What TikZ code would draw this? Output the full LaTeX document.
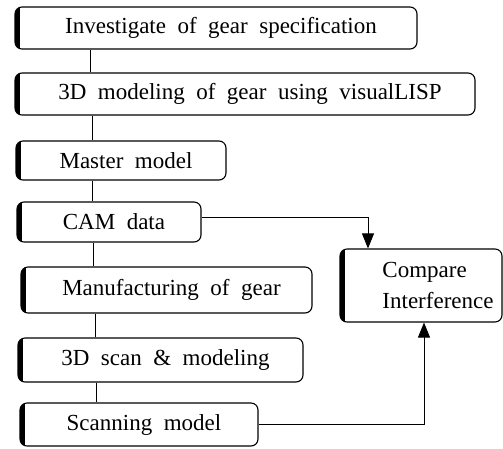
\documentclass[tikz,border=0pt]{standalone}
\usepackage{fontspec}
\setmainfont{Liberation Serif}
\usetikzlibrary{arrows.meta}

\newcommand\gearfont{\fontsize{23}{31}\selectfont}

\tikzset{
  stepbox/.style={draw, line width=1.1pt, rounded corners=7pt, inner sep=0pt,
    font=\gearfont,
    path picture={\draw[line width=9pt]
      (path picture bounding box.north west) -- (path picture bounding box.south west);}},
  gearstep/.style={stepbox, execute at begin node={\spaceskip=0.5em\relax\hspace*{10pt}}},
  spine/.style={line width=0.8pt},
  flow/.style={line width=0.9pt, -{Triangle[length=15pt,width=12pt]}}
}

\begin{document}
\begin{tikzpicture}[x=1pt, y=1pt]

  \useasboundingbox (0,0) rectangle (503,-448);

  % process chain, top to bottom
  \node[gearstep, minimum width=402pt, minimum height=42pt] (inv)    at (216,-28)    {Investigate of gear specification};
  \node[gearstep, minimum width=460pt, minimum height=42pt] (model)  at (245,-94)    {3D modeling of gear using visualLISP};
  \node[gearstep, minimum width=210pt, minimum height=39pt] (master) at (121,-160.5) {Master model};
  \node[gearstep, minimum width=184pt, minimum height=40pt] (cam)    at (109,-222)   {CAM data};
  \node[gearstep, minimum width=291pt, minimum height=46pt] (manu)   at (166.5,-290) {Manufacturing of gear};
  \node[gearstep, minimum width=285pt, minimum height=44pt] (scan)   at (160.5,-360) {3D scan \& modeling};
  \node[gearstep, minimum width=238pt, minimum height=43pt] (smodel) at (139,-424.5) {Scanning model};

  % check box on the right
  \node[stepbox, align=left, minimum width=162pt, minimum height=73pt] (cmp) at (421,-285.5)
    {\hspace*{34pt}Compare\\\hspace*{34pt}Interference};

  \foreach \a/\b/\x in {inv/model/90, model/master/92, master/cam/92,
                        cam/manu/93, manu/scan/95, scan/smodel/96}
    \draw[spine] (\x,0 |- \a.south) -- (\x,0 |- \b.north);

  \draw[flow] ([yshift=5pt]cam.east) -| ([xshift=-53pt]cmp.north);
  \draw[flow] (smodel.east) -| ([xshift=3pt]cmp.south);

\end{tikzpicture}
\end{document}
